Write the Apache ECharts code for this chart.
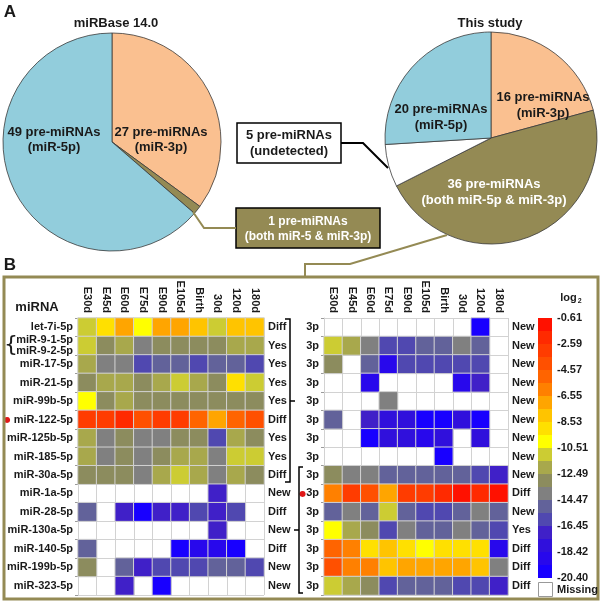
<!DOCTYPE html>
<html><head><meta charset="utf-8">
<script src="https://cdn.jsdelivr.net/npm/echarts@6/dist/echarts.min.js"></script>
<style>html,body{margin:0;padding:0;background:#fff}#c{width:603px;height:605px}</style>
</head><body><div id="c"></div>
<script>
// ---------- data ----------
const leftPieNames = ['miR-3p', 'both miR-5 & miR-3p', 'miR-5p'];
const leftPieValues = [27, 1, 49];
const rightPieNames = ['miR-3p', 'both miR-5p & miR-3p', 'undetected', 'miR-5p'];
const rightPieValues = [16, 36, 5, 20];

const days = ['E30d','E45d','E60d','E75d','E90d','E105d','Birth','30d','120d','180d'];
const leftRows = ['let-7i-5p','miR-9-1-5p\nmiR-9-2-5p','miR-17-5p','miR-21-5p','miR-99b-5p','miR-122-5p','miR-125b-5p','miR-185-5p','miR-30a-5p','miR-1a-5p','miR-28-5p','miR-130a-5p','miR-140-5p','miR-199b-5p','miR-323-5p'];
const leftStatus = ['Diff','Yes','Yes','Yes','Yes','Diff','Yes','Yes','Diff','New','Diff','New','Diff','New','New'];
const rightRows = ['3p','3p','3p','3p','3p','3p','3p','3p','3p','3p','3p','3p','3p','3p','3p'];
const rightStatus = ['New','New','New','New','New','New','New','New','New','Diff','New','Yes','Diff','Diff','Diff'];
const leftMarked = [5];
const rightMarked = [9];

const leftMatrix = [
  [-11.1, -9.0, -7.2, -10.0, -6.9, -7.0, -8.1, -11.0, -7.9, -8.0],
  [-10.9, -13.1, -12.1, -14.0, -12.9, -13.0, -13.2, -13.0, -12.0, -11.9],
  [-12.2, -13.9, -14.1, -16.0, -15.1, -15.0, -16.1, -14.9, -15.2, -16.0],
  [-13.0, -12.1, -11.9, -13.1, -12.0, -11.1, -12.2, -13.0, -9.1, -11.0],
  [-10.1, -13.0, -12.1, -12.9, -13.1, -13.0, -13.0, -12.8, -13.1, -13.0],
  [-3.2, -3.0, -2.2, -4.0, -3.1, -3.1, -5.0, -7.0, -5.1, -4.2],
  [-12.0, -14.0, -13.1, -14.1, -13.9, -13.0, -12.9, -16.0, -12.1, -13.2],
  [-11.9, -14.1, -13.0, -14.0, -12.9, -12.0, -12.1, -13.9, -11.0, -11.1],
  [-13.1, -13.0, -12.9, -14.0, -12.0, -11.0, -12.1, -14.1, -12.0, -13.0],
  [null, null, null, null, null, null, null, -17.0, null, null],
  [-15.0, null, -17.0, -19.9, -16.9, -17.1, -16.0, -17.0, -16.1, null],
  [null, null, null, null, null, null, null, -17.0, null, null],
  [-15.1, null, null, null, null, -19.8, -18.9, -19.0, -19.9, null],
  [-13.0, null, -15.0, -17.1, -16.0, -15.9, -16.1, -15.1, -15.0, -16.0],
  [null, null, -17.0, null, -19.9, null, null, null, null, null]
];
const rightMatrix = [
  [null, null, null, null, null, null, null, null, -19.9, null],
  [-11.0, -12.1, -14.0, -16.0, -15.9, -15.1, -15.0, -14.0, -15.1, null],
  [-13.0, null, -15.0, -19.0, -16.0, -16.1, -15.9, -16.0, -16.1, null],
  [null, null, -19.0, null, null, null, null, -19.1, -17.0, null],
  [null, null, null, -14.0, null, null, null, null, null, null],
  [-15.0, null, -17.0, -18.0, -18.1, -19.9, -19.8, -18.0, -19.9, null],
  [null, null, -19.9, -18.0, -18.1, -19.0, -18.0, null, -18.0, null],
  [null, null, null, null, null, null, -19.9, null, null, null],
  [-13.0, -14.0, -14.1, -15.0, -15.1, -15.0, -15.0, -15.1, -16.0, -17.0],
  [-6.0, -3.1, -4.0, -7.0, -3.0, -3.0, -2.1, -1.2, -2.0, -1.1],
  [-15.0, -14.0, -15.1, -11.0, -15.0, -16.0, -15.9, -15.1, -14.0, -15.0],
  [-10.0, -12.0, -13.0, -16.0, -14.0, -15.0, -15.1, -14.0, -15.0, -16.0],
  [-5.0, -6.0, -9.0, -8.1, -9.0, -10.0, -9.1, -9.0, -9.1, -19.0],
  [-4.2, -6.2, -6.0, -8.0, -7.0, -7.1, -7.0, -7.5, -7.8, -14.0],
  [-11.0, -12.0, -13.0, -16.0, -15.0, -15.0, -15.1, -16.0, -16.0, -17.0]
];

const scaleMax = -0.61, scaleMin = -20.40;
const legendTicks = ['-20.40','-18.42','-16.45','-14.47','-12.49','-10.51','-8.53','-6.55','-4.57','-2.59','-0.61'];
// colours from top (highest) to bottom (lowest)
const legendColors = ['#FF1100','#FF2A00','#FF3C00','#FF5000','#FF6400','#FF8000','#FFA500','#FFC400','#FFE000','#FFFF00',
                      '#CCCC33','#A8A84C','#8C8C5E','#808080','#62629A','#5048B0','#4020C8','#3010DC','#2808EC','#1800FF'];

// ---------- build ----------
const FONT = 'Arial, "Liberation Sans", sans-serif';
const TXT = '#1a1a1a';
const OLIVE = '#948A54';
const step = (scaleMax - scaleMin) / legendColors.length;
const pieces = [];
for (let i = legendColors.length - 1; i >= 0; i--) {
  const hi = scaleMax - i * step, lo = scaleMax - (i + 1) * step;
  const p = { color: legendColors[i], gte: lo - (i === legendColors.length - 1 ? 1 : 0) };
  if (i === 0) p.lte = hi + 1; else p.lt = hi;
  pieces.push(p);
}
function toCells(m) {
  const out = [];
  m.forEach((row, y) => row.forEach((v, x) => { if (v !== null) out.push([x, y, v]); }));
  return out;
}
const idx = n => Array.from({length: n}, (_, i) => 'r' + i);

function txt(text, x, y, opt) {
  opt = opt || {};
  return { type: 'text', z: 100, style: Object.assign({
    text, x, y, fill: TXT, align: 'center', verticalAlign: 'middle',
    font: 'bold 13px ' + FONT, lineHeight: 15 }, opt) };
}

const pieLabelL = [[161, 140], null, [54, 140]];
const pieLabelR = [[543, 105], [494, 192], null, [441, 117]];
const graphics = [];
leftPieValues.forEach((v, i) => {
  if (pieLabelL[i]) graphics.push(txt(v + ' pre-miRNAs\n(' + leftPieNames[i] + ')', pieLabelL[i][0], pieLabelL[i][1]));
});
rightPieValues.forEach((v, i) => {
  if (pieLabelR[i]) graphics.push(txt(v + ' pre-miRNAs\n(' + rightPieNames[i] + ')', pieLabelR[i][0], pieLabelR[i][1],
    { fill: i === 1 ? '#ffffff' : TXT, lineHeight: 16 }));
});
graphics.push(
  txt('A', 10, 12, { font: 'bold 17px ' + FONT }),
  txt('B', 10, 265, { font: 'bold 17px ' + FONT }),
  txt('miRBase 14.0', 116, 23),
  txt('This study', 490, 23),
  // callout boxes
  { type: 'rect', z: 90, shape: { x: 237, y: 123, width: 104, height: 40 }, style: { fill: '#fff', stroke: '#000', lineWidth: 1.5 } },
  txt(rightPieValues[2] + ' pre-miRNAs\n(' + rightPieNames[2] + ')', 289, 143, { lineHeight: 16 }),
  { type: 'rect', z: 90, shape: { x: 236, y: 208, width: 144, height: 40 }, style: { fill: OLIVE, stroke: '#000', lineWidth: 1.5 } },
  txt(leftPieValues[1] + ' pre-miRNAs\n(' + leftPieNames[1] + ')', 308, 229, { fill: '#fff', font: 'bold 12px ' + FONT, lineHeight: 15 }),
  { type: 'polyline', z: 95, shape: { points: [[193, 212], [204, 228], [236, 228]] }, style: { stroke: OLIVE, lineWidth: 2, fill: null } },
  { type: 'polyline', z: 95, shape: { points: [[341, 143], [363, 143], [388, 168]] }, style: { stroke: '#000', lineWidth: 2, fill: null } },
  { type: 'polyline', z: 95, shape: { points: [[447, 235], [350, 264], [305, 264], [305, 277]] }, style: { stroke: OLIVE, lineWidth: 2, fill: null } },
  // panel B frame
  { type: 'rect', z: 1, shape: { x: 4, y: 277, width: 594, height: 322 }, style: { fill: null, stroke: OLIVE, lineWidth: 3 } },
  txt('miRNA', 37, 307, { font: 'bold 13px ' + FONT }),
  txt('{', 11, 345, { font: '22px "DejaVu Sans", sans-serif' }),
  // brackets
  { type: 'polyline', z: 95, shape: { points: [[285, 319], [290, 319], [290, 482], [285, 482]] }, style: { stroke: '#000', lineWidth: 1.5, fill: null } },
  { type: 'line', z: 95, shape: { x1: 290, y1: 401, x2: 295, y2: 401 }, style: { stroke: '#000', lineWidth: 1.5 } },
  { type: 'polyline', z: 95, shape: { points: [[303, 467], [299, 467], [299, 593], [303, 593]] }, style: { stroke: '#000', lineWidth: 1.5, fill: null } },
  { type: 'line', z: 95, shape: { x1: 299, y1: 530, x2: 294, y2: 530 }, style: { stroke: '#000', lineWidth: 1.5 } },
  // legend extras
  { type: 'text', z: 100, style: { x: 571, y: 298, align: 'center', verticalAlign: 'middle', text: '{a|log}{b|2}',
      rich: { a: { font: 'bold 11px ' + FONT, fill: TXT }, b: { font: 'bold 7px ' + FONT, fill: TXT, padding: [6, 0, 0, 1] } } } },
  { type: 'rect', z: 90, shape: { x: 538.5, y: 582.5, width: 14, height: 14 }, style: { fill: '#fff', stroke: '#999', lineWidth: 1 } },
  txt('Missing', 557, 590, { align: 'left', font: 'bold 11px ' + FONT })
);

const labelBase = { color: TXT, fontFamily: FONT, fontWeight: 'bold', fontSize: 11 };
const gridLine = '#d2d2d2';

function rowAxis(gridIndex, names, marked, position, withLines, dotGap) {
  return {
    type: 'category', gridIndex, data: idx(names.length), inverse: true, position,
    axisLine: { show: withLines, lineStyle: { color: gridLine } },
    axisTick: { show: withLines, length: 3, interval: 0, lineStyle: { color: '#9a9a9a' } },
    splitLine: { show: withLines, interval: 0, lineStyle: { color: gridLine } },
    axisLabel: Object.assign({}, labelBase, {
      interval: 0, margin: position === 'left' ? 5 : 4, lineHeight: 11,
      formatter: (v, i) => (marked.indexOf(i) >= 0 ? '{dot|●}' + (dotGap || '') : '') + names[i],
      rich: { dot: { color: '#E01818', fontSize: 8, fontWeight: 'normal', fontFamily: '"DejaVu Sans", sans-serif' } }
    })
  };
}
function dayAxis(gridIndex) {
  return {
    type: 'category', gridIndex, data: days, position: 'top',
    axisLine: { show: true, lineStyle: { color: gridLine } },
    axisTick: { show: false },
    splitLine: { show: true, interval: 0, lineStyle: { color: gridLine } },
    axisLabel: Object.assign({}, labelBase, { interval: 0, rotate: 90, margin: 5 })
  };
}

const option = {
  animation: false,
  backgroundColor: '#fff',
  textStyle: { fontFamily: FONT },
  graphic: graphics,
  grid: [
    { left: 78, top: 318, width: 186, height: 277 },
    { left: 324, top: 318, width: 184, height: 277 },
    { left: 538, top: 318, width: 14, height: 260 }
  ],
  xAxis: [dayAxis(0), dayAxis(1), { type: 'value', gridIndex: 2, show: false, min: 0, max: 1 }],
  yAxis: [
    rowAxis(0, leftRows, leftMarked, 'left', true, ' '),
    rowAxis(0, leftStatus, [], 'right', false),
    rowAxis(1, rightRows, rightMarked, 'left', true, ''),
    rowAxis(1, rightStatus, [], 'right', false),
    { type: 'value', gridIndex: 2, position: 'right', min: scaleMin, max: scaleMax, interval: step * 2,
      axisLine: { show: false }, axisTick: { show: false }, splitLine: { show: false },
      axisLabel: Object.assign({}, labelBase, { margin: 5,
        formatter: v => legendTicks[Math.round((v - scaleMin) / (step * 2))] || '' }) }
  ],
  visualMap: {
    type: 'piecewise', seriesIndex: [2, 3], pieces, show: true, orient: 'vertical',
    left: 538, top: 318, itemWidth: 14, itemHeight: 13, itemGap: 0, showLabel: false,
    padding: 0, selectedMode: false, hoverLink: false, itemSymbol: 'rect'
  },
  series: [
    { type: 'pie', center: [112, 142], radius: 109, startAngle: 90, clockwise: true,
      label: { show: false }, labelLine: { show: false }, emphasis: { disabled: true }, silent: true,
      itemStyle: { borderColor: '#3a3a3a', borderWidth: 0.8 },
      data: leftPieValues.map((v, i) => ({ value: v, name: leftPieNames[i], itemStyle: { color: ['#FAC090', OLIVE, '#92CDDC'][i] } })) },
    { type: 'pie', center: [491, 138], radius: 106, startAngle: 90, clockwise: true,
      label: { show: false }, labelLine: { show: false }, emphasis: { disabled: true }, silent: true,
      itemStyle: { borderColor: '#3a3a3a', borderWidth: 0.8 },
      data: rightPieValues.map((v, i) => ({ value: v, name: rightPieNames[i], itemStyle: { color: ['#FAC090', OLIVE, '#FFFFFF', '#92CDDC'][i] } })) },
    { type: 'heatmap', xAxisIndex: 0, yAxisIndex: 0, data: toCells(leftMatrix),
      itemStyle: { borderColor: gridLine, borderWidth: 1 }, emphasis: { disabled: true } },
    { type: 'heatmap', xAxisIndex: 1, yAxisIndex: 2, data: toCells(rightMatrix),
      itemStyle: { borderColor: gridLine, borderWidth: 1 }, emphasis: { disabled: true } }
  ]
};
const chart = echarts.init(document.getElementById('c'), null, { renderer: 'canvas' });
chart.setOption(option);
</script></body></html>
